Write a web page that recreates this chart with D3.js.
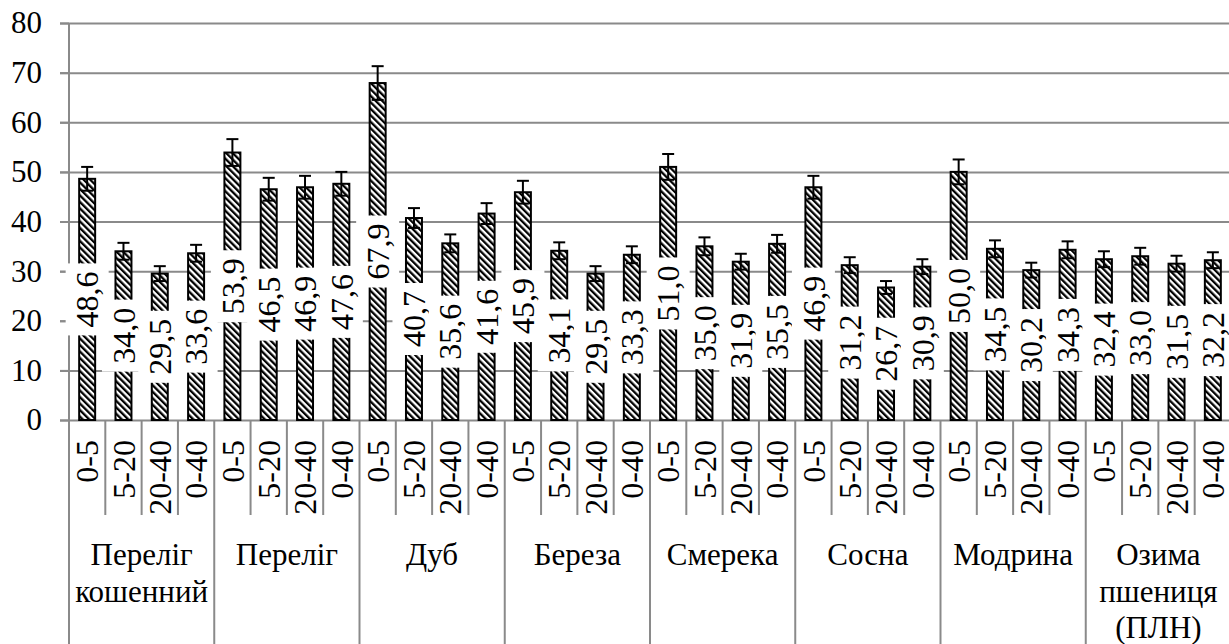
<!DOCTYPE html>
<html>
<head>
<meta charset="utf-8">
<script src="https://cdn.jsdelivr.net/npm/d3@7"></script>
<style>
  body { margin: 0; background: #fff; }
  svg text { font-family: "Liberation Serif", "DejaVu Serif", "Times New Roman", serif !important; fill: #000; }
</style>
</head>
<body>
<script>
// data
var groups = ["Переліг кошенний", "Переліг", "Дуб", "Береза", "Смерека", "Сосна", "Модрина", "Озима пшениця (ПЛН)"];
var groupLines = [["Переліг", "кошенний"], ["Переліг"], ["Дуб"], ["Береза"], ["Смерека"], ["Сосна"], ["Модрина"], ["Озима", "пшениця", "(ПЛН)"]];
var depths = ["0-5", "5-20", "20-40", "0-40"];
var values = [
    48.6, 34.0, 29.5, 33.6,
    53.9, 46.5, 46.9, 47.6,
    67.9, 40.7, 35.6, 41.6,
    45.9, 34.1, 29.5, 33.3,
    51.0, 35.0, 31.9, 35.5,
    46.9, 31.2, 26.7, 30.9,
    50.0, 34.5, 30.2, 34.3,
    32.4, 33.0, 31.5, 32.2
];
var errors = [
    2.4, 1.7, 1.5, 1.7,
    2.7, 2.3, 2.3, 2.4,
    3.4, 2.0, 1.8, 2.1,
    2.3, 1.7, 1.5, 1.7,
    2.6, 1.8, 1.6, 1.8,
    2.3, 1.6, 1.3, 1.5,
    2.5, 1.7, 1.5, 1.7,
    1.6, 1.7, 1.6, 1.6
];
var yTicks = [0, 10, 20, 30, 40, 50, 60, 70, 80];

var w = 1229,
    h = 644;

var margin = { top: 23, right: 1231, bottom: 420, left: 69 };
var serif = '"Liberation Serif", "DejaVu Serif", "Times New Roman", serif';

var rows = [];
groups.forEach(function (g, gi) {
    depths.forEach(function (d, di) {
        var i = gi * 4 + di;
        rows.push({ key: i, group: g, depth: d, value: values[i], err: errors[i] });
    });
});

var svg = d3
    .select("body")
    .append("svg")
    .attr("width", w)
    .attr("height", h);

var defs = svg.append("defs");
var pat = defs.append("pattern")
    .attr("id", "hatch")
    .attr("patternUnits", "userSpaceOnUse")
    .attr("width", 4.6)
    .attr("height", 4.6)
    .attr("patternTransform", "rotate(-45)");
pat.append("rect").attr("width", 4.6).attr("height", 4.6).attr("fill", "#fff");
pat.append("rect").attr("width", 2.3).attr("height", 4.6).attr("fill", "#000");

var x = d3.scaleBand()
    .domain(rows.map(function (d) { return d.key; }))
    .range([margin.left, margin.right])
    .paddingInner(0.56)
    .paddingOuter(0.28);

var gx = d3.scaleBand()
    .domain(groups)
    .range([margin.left, margin.right])
    .padding(0);

var y = d3.scaleLinear()
    .domain([0, 80])
    .range([margin.bottom, margin.top]);

// gridlines
svg.append("g")
    .attr("transform", "translate(60,0)")
    .call(d3.axisLeft(y).tickValues(yTicks).tickSize(-(w - 60)).tickFormat(""))
    .call(function (g) {
        g.select(".domain").remove();
        g.selectAll("line").attr("stroke", "#8a8a8a").attr("stroke-width", 2);
    });

// y axis
svg.append("g")
    .attr("transform", "translate(" + margin.left + ",0)")
    .call(d3.axisLeft(y).tickValues(yTicks).tickSize(9).tickSizeOuter(0).tickPadding(18))
    .call(function (g) {
        g.attr("font-family", serif).attr("font-size", 31);
        g.select(".domain").attr("stroke", "#8a8a8a").attr("stroke-width", 2)
            .attr("d", "M0," + y(80) + "V" + h);
        g.selectAll("line").attr("stroke", "#8a8a8a").attr("stroke-width", 2);
        g.selectAll("text").style("font-family", serif).style("font-size", "31px");
    });

// x axis separators
var step = x.step();
var sep = svg.append("g").attr("stroke", "#8a8a8a").attr("stroke-width", 2);
rows.forEach(function (d, i) {
    if (i === 0) return;
    var bx = x(d.key) - step * x.paddingInner() / 2;
    sep.append("line")
        .attr("x1", bx).attr("x2", bx)
        .attr("y1", margin.bottom)
        .attr("y2", i % 4 === 0 ? h : 515);
});

// bars
svg.append("g")
    .selectAll("rect")
    .data(rows)
    .enter()
    .append("rect")
    .attr("x", function (d) { return x(d.key); })
    .attr("y", function (d) { return y(d.value); })
    .attr("width", x.bandwidth())
    .attr("height", function (d) { return y(0) - y(d.value); })
    .attr("fill", "url(#hatch)")
    .attr("stroke", "#000")
    .attr("stroke-width", 2);

// error bars
var eb = svg.append("g").attr("stroke", "#000").attr("stroke-width", 2);
rows.forEach(function (d) {
    var cx = x(d.key) + x.bandwidth() / 2;
    eb.append("line").attr("x1", cx).attr("x2", cx)
        .attr("y1", y(d.value + d.err)).attr("y2", y(d.value - d.err));
    eb.append("line").attr("x1", cx - 6).attr("x2", cx + 6)
        .attr("y1", y(d.value + d.err)).attr("y2", y(d.value + d.err));
    eb.append("line").attr("x1", cx - 6).attr("x2", cx + 6)
        .attr("y1", y(d.value - d.err)).attr("y2", y(d.value - d.err));
});

// data labels
var fmt = function (v) { return d3.format(".1f")(v).replace(".", ","); };
var lab = svg.append("g");
rows.forEach(function (d) {
    var cx = x(d.key) + x.bandwidth() / 2,
        cy = (y(0) + y(d.value)) / 2;
    var g = lab.append("g").attr("transform", "translate(" + cx + "," + cy + ") rotate(-90)");
    var r = g.append("rect").attr("fill", "#fff");
    var t = g.append("text")
        .attr("text-anchor", "middle")
        .attr("dy", "0.35em")
        .style("font-family", serif)
        .style("font-size", "32px")
        .text(fmt(d.value));
    var len = t.node().getComputedTextLength();
    r.attr("x", -len / 2 - 8).attr("width", len + 16)
        .attr("y", -21.5).attr("height", 43);
});

// category labels
svg.append("g")
    .selectAll("text")
    .data(rows)
    .enter()
    .append("text")
    .attr("transform", function (d) {
        return "translate(" + (x(d.key) + x.bandwidth() / 2) + ",440) rotate(-90)";
    })
    .attr("text-anchor", "end")
    .attr("dy", "0.35em")
    .style("font-family", serif)
    .style("font-size", "32px")
    .text(function (d) { return d.depth; });

// group labels
groups.forEach(function (g, gi) {
    var t = svg.append("text")
        .attr("text-anchor", "middle")
        .style("font-family", serif)
        .style("font-size", "31px");
    groupLines[gi].forEach(function (line, li) {
        t.append("tspan")
            .attr("x", gx(g) + gx.bandwidth() / 2)
            .attr("y", 565 + li * 36.5)
            .text(line);
    });
});
</script>
</body>
</html>
